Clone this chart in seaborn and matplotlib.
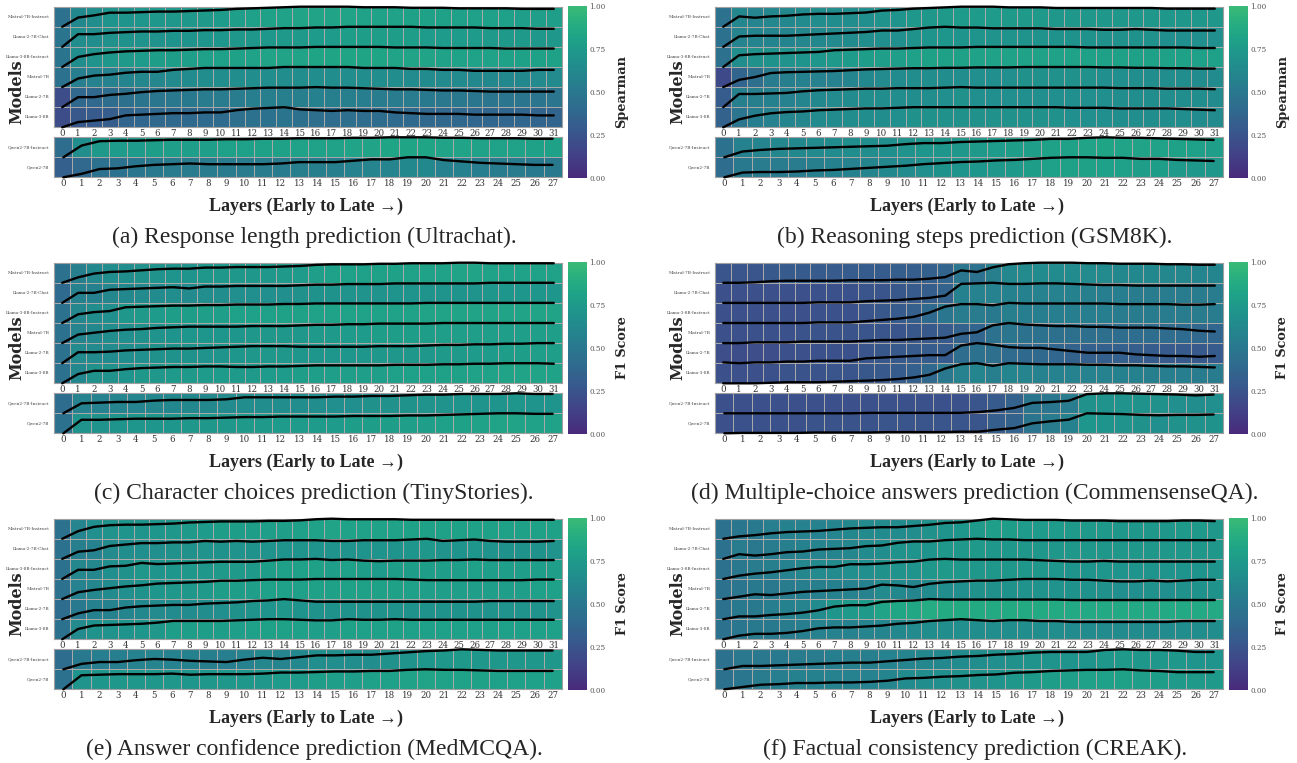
import numpy as np
import pandas as pd
import matplotlib
matplotlib.use("Agg")
import matplotlib.pyplot as plt
import seaborn as sns
from matplotlib.colors import ListedColormap, Normalize
from matplotlib.cm import ScalarMappable

models_main = ["Mistral-7B-Instruct", "Llama-2-7B-Chat", "Llama-3-8B-Instruct",
               "Mistral-7B", "Llama-2-7B", "Llama-3-8B"]
models_qwen = ["Qwen2-7B-Instruct", "Qwen2-7B"]
layers_main = list(range(32))
layers_qwen = list(range(28))
cbar_ticks = [0.0, 0.25, 0.5, 0.75, 1.0]

# (a) response length, Ultrachat (Spearman)
resp_len_main = [
    [.45, .62, .66, .71, .71, .72, .73, .73, .74, .75, .76, .78, .79, .80, .81, .82, .82, .82, .82, .81, .81, .81, .80, .80, .80, .79, .79, .79, .79, .78, .78, .78],
    [.47, .66, .66, .68, .69, .70, .70, .71, .71, .72, .72, .73, .73, .74, .75, .75, .76, .76, .77, .77, .77, .77, .77, .76, .76, .76, .76, .75, .75, .75, .74, .74],
    [.47, .65, .70, .73, .75, .76, .77, .77, .78, .79, .79, .80, .81, .82, .82, .82, .83, .83, .83, .83, .83, .82, .82, .82, .81, .81, .81, .81, .80, .80, .80, .80],
    [.45, .54, .57, .58, .60, .61, .61, .63, .64, .65, .65, .65, .65, .65, .66, .66, .66, .66, .66, .65, .65, .65, .64, .64, .63, .63, .62, .62, .62, .62, .63, .63],
    [.20, .38, .38, .42, .44, .47, .49, .50, .51, .52, .52, .53, .54, .55, .55, .55, .56, .55, .55, .54, .53, .52, .52, .51, .50, .50, .49, .48, .48, .48, .48, .48],
    [.20, .27, .29, .31, .36, .37, .38, .39, .39, .40, .40, .43, .45, .46, .47, .44, .43, .42, .43, .42, .42, .40, .39, .38, .38, .38, .37, .37, .37, .37, .36, .36],
]
resp_len_qwen = [
    [.42, .66, .75, .76, .76, .77, .78, .78, .78, .79, .79, .80, .80, .81, .81, .81, .82, .82, .83, .83, .83, .82, .82, .81, .81, .81, .80, .80],
    [.33, .38, .45, .46, .49, .51, .52, .53, .52, .52, .52, .52, .53, .55, .55, .55, .57, .59, .59, .62, .62, .58, .56, .54, .53, .52, .51, .51],
]

# (b) reasoning steps, GSM8K (Spearman)
steps_main = [
    [.45, .61, .59, .61, .62, .64, .65, .65, .66, .67, .70, .71, .73, .74, .75, .76, .76, .76, .75, .75, .75, .74, .74, .74, .74, .74, .74, .74, .73, .73, .73, .73],
    [.45, .59, .60, .60, .60, .61, .62, .63, .64, .65, .67, .67, .69, .71, .72, .71, .71, .70, .70, .70, .70, .69, .69, .69, .68, .68, .69, .68, .67, .67, .67, .67],
    [.45, .66, .68, .69, .70, .71, .72, .75, .76, .77, .78, .78, .79, .80, .80, .80, .81, .81, .81, .81, .81, .81, .81, .80, .80, .80, .80, .80, .80, .80, .79, .79],
    [.18, .36, .43, .53, .55, .56, .57, .58, .60, .62, .63, .64, .65, .65, .66, .66, .67, .67, .67, .68, .68, .68, .68, .68, .67, .67, .66, .66, .65, .65, .64, .64],
    [.30, .55, .55, .56, .57, .60, .62, .63, .64, .65, .65, .66, .66, .66, .67, .68, .67, .67, .67, .67, .67, .67, .67, .67, .67, .66, .66, .66, .65, .65, .65, .64],
    [.35, .48, .54, .58, .60, .61, .63, .64, .65, .66, .66, .67, .68, .68, .68, .68, .68, .68, .68, .68, .68, .68, .67, .67, .67, .66, .66, .66, .66, .65, .64, .63],
]
steps_qwen = [
    [.45, .56, .59, .61, .62, .63, .64, .65, .66, .67, .70, .72, .72, .74, .75, .76, .77, .78, .80, .80, .82, .83, .82, .82, .81, .80, .79, .78],
    [.42, .51, .52, .52, .53, .55, .56, .58, .60, .62, .64, .67, .69, .71, .72, .74, .75, .77, .79, .80, .80, .79, .79, .77, .77, .75, .74, .73],
]

# (c) character choices, TinyStories (F1)
chars_main = [
    [.45, .55, .62, .65, .66, .68, .70, .71, .71, .73, .73, .74, .74, .74, .75, .76, .78, .79, .79, .79, .80, .80, .81, .81, .81, .82, .82, .81, .81, .81, .81, .81],
    [.40, .56, .56, .61, .62, .63, .64, .65, .63, .66, .66, .67, .67, .67, .67, .68, .69, .69, .70, .70, .70, .71, .71, .71, .71, .71, .71, .72, .72, .72, .72, .72],
    [.45, .61, .65, .67, .74, .75, .76, .77, .77, .78, .78, .79, .79, .79, .80, .80, .81, .81, .81, .81, .81, .81, .81, .82, .82, .82, .82, .82, .82, .82, .82, .82],
    [.45, .59, .62, .65, .67, .68, .70, .71, .72, .72, .72, .72, .73, .73, .73, .74, .75, .75, .76, .76, .77, .77, .77, .77, .78, .78, .78, .78, .78, .78, .78, .78],
    [.45, .63, .63, .64, .66, .67, .68, .69, .69, .70, .71, .72, .73, .73, .73, .72, .72, .72, .72, .72, .73, .73, .73, .74, .75, .75, .76, .76, .77, .77, .78, .78],
    [.45, .62, .68, .68, .71, .73, .74, .75, .75, .76, .76, .75, .75, .76, .76, .77, .78, .78, .78, .78, .78, .79, .79, .79, .80, .80, .81, .81, .82, .82, .82, .81],
]
chars_qwen = [
    [.42, .57, .58, .59, .59, .61, .62, .62, .62, .63, .66, .66, .66, .66, .66, .67, .67, .68, .68, .69, .70, .70, .71, .71, .71, .72, .71, .71],
    [.45, .70, .70, .71, .72, .72, .72, .73, .73, .74, .75, .75, .76, .76, .76, .76, .77, .77, .77, .78, .78, .79, .80, .81, .82, .82, .81, .81],
]

# (d) multiple-choice answers, CommonsenseQA (F1)
mcq_main = [
    [.25, .25, .26, .28, .29, .29, .29, .29, .30, .30, .30, .31, .31, .33, .36, .49, .46, .55, .61, .63, .64, .64, .64, .63, .63, .62, .62, .62, .61, .61, .60, .60],
    [.22, .22, .22, .22, .22, .22, .23, .23, .23, .25, .26, .27, .29, .31, .35, .56, .57, .58, .56, .56, .57, .57, .56, .55, .54, .54, .53, .53, .53, .53, .53, .53],
    [.22, .22, .22, .22, .22, .22, .23, .23, .23, .25, .27, .29, .32, .39, .49, .53, .53, .51, .55, .54, .54, .54, .54, .54, .54, .53, .53, .53, .53, .52, .52, .53],
    [.22, .22, .23, .23, .23, .24, .24, .24, .24, .25, .26, .26, .27, .28, .29, .34, .36, .45, .48, .46, .45, .44, .44, .43, .43, .42, .42, .42, .41, .40, .38, .37],
    [.21, .20, .21, .21, .22, .22, .23, .23, .23, .26, .27, .28, .29, .30, .30, .42, .45, .43, .40, .39, .39, .37, .35, .33, .33, .33, .31, .30, .29, .29, .28, .29],
    [.22, .22, .22, .23, .24, .24, .24, .25, .26, .27, .28, .30, .33, .38, .50, .58, .60, .55, .60, .59, .58, .58, .58, .57, .57, .56, .56, .55, .54, .54, .53, .52],
]
mcq_qwen = [
    [.22, .22, .22, .22, .22, .22, .22, .22, .23, .23, .23, .23, .23, .23, .25, .29, .35, .47, .49, .52, .68, .70, .70, .69, .68, .67, .65, .67],
    [.22, .23, .23, .23, .23, .24, .24, .24, .24, .25, .25, .25, .25, .26, .26, .31, .35, .47, .52, .56, .72, .71, .70, .68, .67, .68, .68, .69],
]

# (e) answer confidence, MedMCQA (F1)
conf_main = [
    [.45, .59, .67, .70, .71, .71, .72, .73, .75, .76, .77, .77, .77, .78, .78, .79, .81, .82, .81, .81, .81, .81, .80, .80, .80, .80, .80, .80, .80, .80, .80, .80],
    [.45, .55, .57, .63, .65, .67, .67, .68, .68, .70, .69, .70, .69, .70, .71, .71, .71, .70, .70, .71, .71, .71, .72, .73, .70, .71, .72, .70, .69, .69, .69, .70],
    [.45, .61, .61, .67, .68, .73, .71, .72, .73, .74, .75, .75, .75, .77, .79, .79, .80, .78, .79, .77, .76, .77, .77, .77, .78, .78, .79, .78, .78, .78, .78, .78],
    [.45, .57, .61, .64, .67, .69, .72, .73, .74, .75, .77, .77, .78, .79, .79, .79, .80, .80, .80, .80, .80, .80, .79, .78, .78, .78, .78, .78, .78, .78, .79, .79],
    [.42, .51, .56, .56, .60, .62, .63, .64, .64, .66, .67, .68, .70, .71, .73, .71, .69, .69, .69, .69, .69, .69, .69, .69, .69, .69, .69, .70, .70, .70, .70, .70],
    [.45, .63, .69, .70, .71, .72, .74, .77, .77, .77, .77, .78, .79, .80, .80, .79, .78, .78, .80, .79, .79, .80, .79, .79, .79, .79, .79, .79, .79, .79, .79, .79],
]
conf_qwen = [
    [.42, .51, .54, .54, .57, .59, .58, .56, .55, .54, .58, .61, .59, .62, .65, .65, .66, .66, .68, .70, .72, .73, .75, .74, .73, .73, .73, .73],
    [.45, .71, .72, .73, .73, .73, .74, .72, .73, .73, .73, .74, .76, .76, .77, .78, .78, .79, .79, .81, .82, .81, .81, .80, .79, .79, .79, .79],
]

# (f) factual consistency, CREAK (F1)
fact_main = [
    [.45, .49, .51, .54, .56, .57, .58, .60, .62, .63, .64, .64, .66, .68, .71, .72, .75, .78, .77, .76, .76, .76, .75, .75, .75, .74, .74, .74, .74, .75, .75, .74],
    [.45, .52, .50, .52, .55, .56, .59, .60, .61, .64, .65, .69, .71, .71, .73, .74, .75, .74, .74, .73, .73, .73, .73, .73, .73, .73, .73, .73, .73, .73, .73, .73],
    [.45, .50, .53, .55, .58, .61, .63, .63, .67, .67, .68, .70, .71, .74, .75, .74, .74, .74, .74, .74, .73, .72, .71, .71, .72, .71, .71, .71, .71, .71, .71, .71],
    [.45, .48, .51, .50, .52, .54, .55, .56, .57, .58, .63, .62, .60, .64, .66, .67, .68, .68, .69, .70, .70, .70, .69, .69, .68, .67, .67, .68, .67, .68, .69, .69],
    [.45, .51, .51, .54, .56, .59, .64, .72, .75, .75, .82, .84, .85, .88, .87, .87, .87, .87, .87, .87, .87, .87, .86, .86, .86, .86, .86, .86, .86, .86, .86, .86],
    [.45, .49, .51, .51, .52, .54, .57, .58, .58, .59, .60, .62, .63, .65, .66, .67, .66, .65, .66, .66, .65, .65, .64, .64, .64, .64, .64, .64, .64, .65, .65, .65],
]
fact_qwen = [
    [.45, .50, .50, .51, .52, .53, .54, .55, .55, .57, .59, .61, .62, .64, .65, .67, .68, .70, .71, .71, .71, .74, .75, .74, .74, .73, .71, .71],
    [.45, .49, .53, .54, .56, .56, .57, .57, .58, .60, .64, .65, .67, .68, .70, .71, .74, .75, .77, .78, .79, .79, .80, .78, .77, .75, .75, .75],
]

panels = [
    (resp_len_main, resp_len_qwen, "Spearman", "(a) Response length prediction (Ultrachat)."),
    (steps_main, steps_qwen, "Spearman", "(b) Reasoning steps prediction (GSM8K)."),
    (chars_main, chars_qwen, "F1 Score", "(c) Character choices prediction (TinyStories)."),
    (mcq_main, mcq_qwen, "F1 Score", "(d) Multiple-choice answers prediction (CommensenseQA)."),
    (conf_main, conf_qwen, "F1 Score", "(e) Answer confidence prediction (MedMCQA)."),
    (fact_main, fact_qwen, "F1 Score", "(f) Factual consistency prediction (CREAK)."),
]

W, H = 1297, 763
sns.set_theme(style="white")
plt.rcParams["font.family"] = ["DejaVu Serif"]
fig = plt.figure(figsize=(W / 100, H / 100), dpi=100)

# viridis, cut off before the yellow end
cmap = ListedColormap(plt.get_cmap("viridis")(np.linspace(0.12, 0.68, 256)))
times = ["Liberation Serif", "DejaVu Serif"]


def px_axes(x, y, w, h):
    return fig.add_axes([x / W, 1 - (y + h) / H, w / W, h / H])


def px_text(x, y, s, **kw):
    fig.text(x / W, 1 - y / H, s, ha="center", va="center", **kw)


def draw_block(ax, values, models, layers):
    df = pd.DataFrame(values, index=models, columns=layers)
    sns.heatmap(df, ax=ax, cmap=cmap, vmin=0, vmax=1, cbar=False,
                linewidths=0.7, linecolor="#a9a9a9",
                xticklabels=True, yticklabels=True)
    arr = df.to_numpy()
    xs = np.arange(len(layers)) + 0.5
    # each row's curve is min-max scaled to fit inside its own row
    for i, row in enumerate(arr):
        norm = (row - row.min()) / (row.max() - row.min())
        ax.plot(xs, i + 1 - norm, color="black", lw=1.7, clip_on=False,
                solid_capstyle="round", zorder=5)
    ax.set_xlabel("")
    ax.set_ylabel("")
    ax.tick_params(axis="both", length=0)
    ax.tick_params(axis="x", labelsize=6.2, pad=1.5, labelcolor="#333333")
    ax.tick_params(axis="y", labelsize=3.1, pad=3.5, labelcolor="#444444")
    ax.set_yticklabels(models, rotation=0)
    ax.set_xticklabels(layers, rotation=0)
    for s in ax.spines.values():
        s.set_visible(True)
        s.set_color("#a0a0a0")
        s.set_linewidth(0.8)


for k, (main_vals, qwen_vals, metric, caption) in enumerate(panels):
    ox = 661 * (k % 2)
    oy = 256 * (k // 2)

    ax_top = px_axes(ox + 54.3, oy + 6.7, 507.4, 120.6)
    draw_block(ax_top, main_vals, models_main, layers_main)
    ax_bot = px_axes(ox + 54.3, oy + 137.3, 507.4, 40.0)
    draw_block(ax_bot, qwen_vals, models_qwen, layers_qwen)

    cax = px_axes(ox + 568, oy + 6, 18.7, 171.7)
    cb = fig.colorbar(ScalarMappable(norm=Normalize(0, 1), cmap=cmap), cax=cax, ticks=cbar_ticks)
    cb.outline.set_visible(False)
    cb.ax.tick_params(length=0, pad=2, labelsize=5.2, labelcolor="#555555")
    cb.ax.set_yticklabels([f"{t:.2f}" for t in cbar_ticks])

    px_text(ox + 17, oy + 92, "Models", rotation=90, fontsize=11.5, fontweight="bold")
    px_text(ox + 622, oy + 92, metric, rotation=90, fontsize=9.3, fontweight="bold")
    px_text(ox + 306, oy + 206, "Layers (Early to Late \u2192)", fontsize=13,
            fontweight="bold", family=times)
    px_text(ox + 314, oy + 237, caption, fontsize=17, family=times)

fig.savefig("out.png", dpi=100)
